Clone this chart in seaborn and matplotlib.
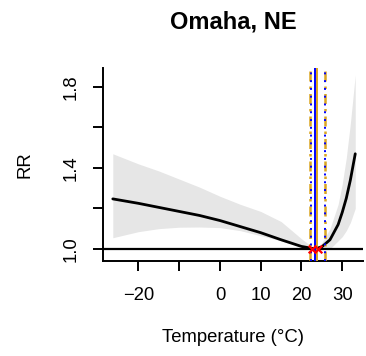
import matplotlib
matplotlib.use("Agg")
import matplotlib.pyplot as plt
import seaborn as sns
import pandas as pd

# ---- data ----
temp = [-26.3, -20, -15, -10, -5, 0, 5, 10, 15, 20, 23.3, 25, 27, 29, 30, 31, 32, 33.2]
rr = [1.247, 1.225, 1.205, 1.185, 1.165, 1.14, 1.11, 1.08, 1.045, 1.012, 1.0,
      1.01, 1.045, 1.12, 1.18, 1.25, 1.34, 1.47]
rr_upper = [1.47, 1.42, 1.385, 1.345, 1.305, 1.26, 1.22, 1.185, 1.135, 1.05, 1.0,
            1.03, 1.10, 1.22, 1.32, 1.45, 1.62, 1.86]
rr_lower = [1.055, 1.085, 1.10, 1.107, 1.108, 1.105, 1.09, 1.065, 1.04, 1.01, 1.0,
            0.998, 1.0, 1.04, 1.06, 1.09, 1.13, 1.2]

mmt_blue = 23.3
mmt_blue_ci = [22.3, 25.7]
mmt_orange = 23.75
mmt_orange_ci = [22.0, 25.85]
red_marks = [22.6, 24.0]

x_ticks = [-20, -10, 0, 10, 20, 30]
x_labels = ["\u221220", "", "0", "10", "20", "30"]
y_ticks = [1.0, 1.2, 1.4, 1.6, 1.8]
y_labels = ["1.0", "", "1.4", "", "1.8"]

title = "Omaha, NE"
xlabel = "Temperature (\u00b0C)"
ylabel = "RR"

# ---- plot ----
sns.set_theme(style="white")
plt.rcParams['font.family'] = ['Liberation Sans', 'DejaVu Sans']

W, H = 366, 356
fig = plt.figure(figsize=(W / 100, H / 100), dpi=100)
ax = fig.add_axes([103 / W, 1 - 261 / H, (363 - 103) / W, (261 - 68) / H])

df = pd.DataFrame({"temp": temp, "rr": rr, "lo": rr_lower, "hi": rr_upper})
ax.fill_between(df["temp"], df["lo"], df["hi"], color="#E6E6E6", lw=0, zorder=1)
sns.lineplot(data=df, x="temp", y="rr", ax=ax, color="black", lw=2.0, zorder=3)
ax.axhline(1.0, color="black", lw=1.6, zorder=2)

ax.axvline(mmt_blue, color="#0000FF", lw=1.4, zorder=4)
ax.axvline(mmt_orange, color="#DAA520", lw=1.4, zorder=4)
for v in mmt_orange_ci:
    ax.axvline(v, color="#DAA520", lw=1.8, ls=(0, (4, 2, 1, 2)), zorder=4)
for v in mmt_blue_ci:
    ax.axvline(v, color="#0000FF", lw=1.4, ls=(0, (1, 3)), zorder=5)
sns.scatterplot(x=red_marks, y=[1.0, 1.0], ax=ax, marker="x", color="red",
                s=30, linewidth=1.6, zorder=6)

ax.set_xlim(-28.7, 35.1)
ax.set_ylim(0.94, 1.894)
ax.set_xticks(x_ticks)
ax.set_xticklabels(x_labels)
ax.set_yticks(y_ticks)
ax.set_yticklabels(y_labels, rotation=90, va="center")
ax.tick_params(axis="both", which="major", bottom=True, left=True,
               direction="out", length=7.5, width=1.4, color="black",
               labelsize=13.3, labelcolor="black")
ax.tick_params(axis="x", pad=11)
ax.tick_params(axis="y", pad=9)
ax.set_xlabel("")
ax.set_ylabel("")
for s in ["top", "right"]:
    ax.spines[s].set_visible(False)
for s in ["left", "bottom"]:
    ax.spines[s].set_color("black")
    ax.spines[s].set_linewidth(1.4)

fig.text(233 / W, 1 - 22 / H, title, ha="center", va="center", fontsize=17,
         fontweight="bold", color="black")
fig.text(233 / W, 1 - 338 / H, xlabel, ha="center", va="center", fontsize=13.3,
         color="black")
fig.text(25 / W, 1 - 165 / H, ylabel, ha="center", va="center", fontsize=13.3,
         rotation=90, color="black")

fig.savefig("out.png", dpi=100, facecolor="white")
